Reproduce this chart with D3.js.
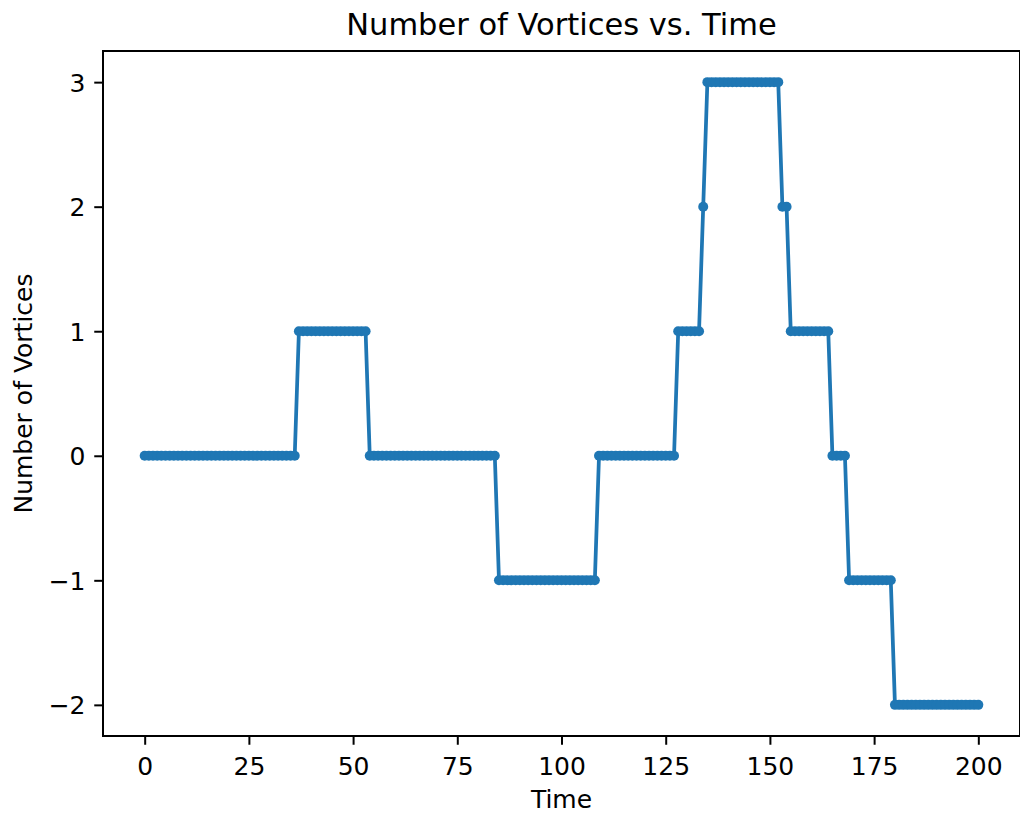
<!DOCTYPE html>
<html>
<head>
<meta charset="utf-8">
<script src="https://cdn.jsdelivr.net/npm/d3@7"></script>
<style>
  html, body { margin: 0; padding: 0; background: #fff; }
  svg { display: block; font-family: "DejaVu Sans", sans-serif; }
</style>
</head>
<body>
<svg id="chart" width="1020" height="815"></svg>
<script>
// Number of vortices counted at each time step (t = 0 … 200, one sample per step)
const vortexCount = [
  // t = 0–36
  0,0,0,0,0,0,0,0,0,0, 0,0,0,0,0,0,0,0,0,0, 0,0,0,0,0,0,0,0,0,0, 0,0,0,0,0,0,0,
  // t = 37–53
  1,1,1,1,1,1,1,1,1,1, 1,1,1,1,1,1,1,
  // t = 54–84
  0,0,0,0,0,0,0,0,0,0, 0,0,0,0,0,0,0,0,0,0, 0,0,0,0,0,0,0,0,0,0, 0,
  // t = 85–108
  -1,-1,-1,-1,-1,-1,-1,-1,-1,-1, -1,-1,-1,-1,-1,-1,-1,-1,-1,-1, -1,-1,-1,-1,
  // t = 109–127
  0,0,0,0,0,0,0,0,0,0, 0,0,0,0,0,0,0,0,0,
  // t = 128–133
  1,1,1,1,1,1,
  // t = 134
  2,
  // t = 135–152
  3,3,3,3,3,3,3,3,3,3, 3,3,3,3,3,3,3,3,
  // t = 153–154
  2,2,
  // t = 155–164
  1,1,1,1,1,1,1,1,1,1,
  // t = 165–168
  0,0,0,0,
  // t = 169–179
  -1,-1,-1,-1,-1,-1,-1,-1,-1,-1, -1,
  // t = 180–200
  -2,-2,-2,-2,-2,-2,-2,-2,-2,-2, -2,-2,-2,-2,-2,-2,-2,-2,-2,-2, -2
];
const timeSteps = vortexCount.map((_, i) => i);

const xTicks = [0, 25, 50, 75, 100, 125, 150, 175, 200];
const yTicks = [-2, -1, 0, 1, 2, 3];

const titleText = "Number of Vortices vs. Time";
const xLabel = "Time";
const yLabel = "Number of Vortices";

// ---- layout ----
const plot = { left: 103, right: 1020, top: 51, bottom: 736 };
const color = "#1f77b4";
const tickFont = 25, titleFont = 30.5;
const tickLen = 8.75, tickPad = 8.75;

const svg = d3.select("#chart");

// axis limits padded by 5% of the data range on each side
const xExt = d3.extent(timeSteps), yExt = d3.extent(vortexCount);
const xm = (xExt[1] - xExt[0]) * 0.05, ym = (yExt[1] - yExt[0]) * 0.05;

const x = d3.scaleLinear().domain([xExt[0] - xm, xExt[1] + xm]).range([plot.left, plot.right]);
const y = d3.scaleLinear().domain([yExt[0] - ym, yExt[1] + ym]).range([plot.bottom, plot.top]);

const data = timeSteps.map((t, i) => ({ t, v: vortexCount[i] }));

// series line
svg.append("path")
  .datum(data)
  .attr("fill", "none")
  .attr("stroke", color)
  .attr("stroke-width", 3.75)
  .attr("stroke-linejoin", "round")
  .attr("stroke-linecap", "square")
  .attr("d", d3.line().x(d => x(d.t)).y(d => y(d.v)));

// point markers
svg.append("g")
  .selectAll("circle")
  .data(data)
  .join("circle")
  .attr("cx", d => x(d.t))
  .attr("cy", d => y(d.v))
  .attr("r", 5)
  .attr("fill", color);

// frame
svg.append("rect")
  .attr("x", plot.left).attr("y", plot.top)
  .attr("width", plot.right - plot.left).attr("height", plot.bottom - plot.top)
  .attr("fill", "none").attr("stroke", "#000").attr("stroke-width", 2);

// x axis
const xAxis = d3.axisBottom(x).tickValues(xTicks).tickSize(tickLen).tickPadding(tickPad).tickFormat(d3.format("d"));
const gx = svg.append("g").attr("transform", `translate(0,${plot.bottom})`).call(xAxis);
gx.select(".domain").remove();
gx.selectAll(".tick line").attr("stroke", "#000").attr("stroke-width", 2);
gx.selectAll(".tick text")
  .attr("font-family", "DejaVu Sans").attr("font-size", tickFont).attr("fill", "#000")
  .attr("dy", null).attr("y", 39);

// y axis
const yAxis = d3.axisLeft(y).tickValues(yTicks).tickSize(tickLen).tickPadding(tickPad).tickFormat(d3.format("d"));
const gy = svg.append("g").attr("transform", `translate(${plot.left},0)`).call(yAxis);
gy.select(".domain").remove();
gy.selectAll(".tick line").attr("stroke", "#000").attr("stroke-width", 2);
gy.selectAll(".tick text")
  .attr("font-family", "DejaVu Sans").attr("font-size", tickFont).attr("fill", "#000")
  .attr("dy", "0.36em");

// title and axis labels
svg.append("text")
  .attr("x", (plot.left + plot.right) / 2).attr("y", 35)
  .attr("text-anchor", "middle").attr("font-size", titleFont).attr("fill", "#000")
  .text(titleText);

svg.append("text")
  .attr("x", (plot.left + plot.right) / 2).attr("y", 808)
  .attr("text-anchor", "middle").attr("font-size", tickFont).attr("fill", "#000")
  .text(xLabel);

svg.append("text")
  .attr("transform", `translate(32,${(plot.top + plot.bottom) / 2}) rotate(-90)`)
  .attr("text-anchor", "middle").attr("font-size", tickFont).attr("fill", "#000")
  .text(yLabel);
</script>
</body>
</html>
